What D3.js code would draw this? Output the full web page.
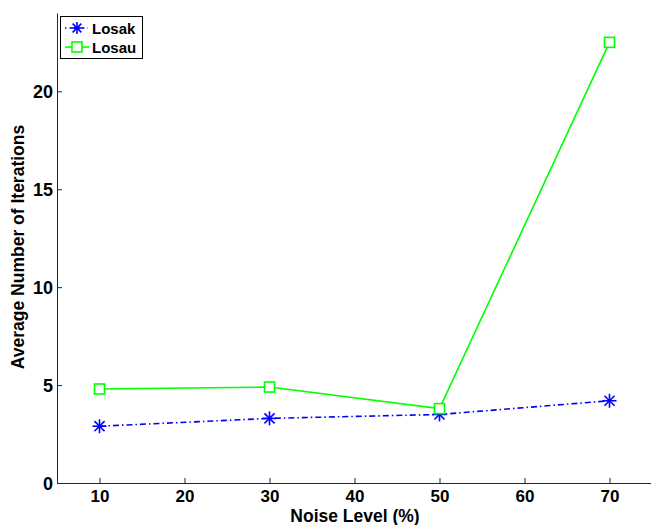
<!DOCTYPE html>
<html>
<head>
<meta charset="utf-8">
<script src="https://cdn.jsdelivr.net/npm/d3@7"></script>
<style>
  body { margin: 0; background: #fff; }
  text { font-family: "Liberation Sans", Arial, sans-serif; font-weight: bold; }
</style>
</head>
<body>
<svg width="651" height="525"></svg>
<script>
let noise = [10, 30, 50, 70];
let losak = [2.9, 3.3, 3.5, 4.2];
let losau = [4.8, 4.9, 3.8, 22.5];
let xTicks = [10, 20, 30, 40, 50, 60, 70];
let yTicks = [0, 5, 10, 15, 20];

let svg = d3.select('svg');

let xScale = d3.scaleLinear().domain([5, 75]).range([57, 652]);
let yScale = d3.scaleLinear().domain([0, 24]).range([483, 13]);

let xAxis = d3.axisBottom(xScale).tickValues(xTicks).tickSizeInner(-5).tickSizeOuter(0).tickPadding(7);
let yAxis = d3.axisLeft(yScale).tickValues(yTicks).tickSizeInner(-5).tickSizeOuter(0).tickPadding(4);

let gx = svg.append('g')
    .attr('transform', `translate(0,${yScale(0)})`)
    .call(xAxis);
let gy = svg.append('g')
    .attr('transform', `translate(${xScale(5)},0)`)
    .call(yAxis);

[gx, gy].forEach(g => {
  g.select('.domain').attr('stroke', '#262626').attr('stroke-width', 1);
  g.selectAll('.tick line').attr('stroke', '#262626');
  g.selectAll('.tick text').attr('fill', '#000')
    .style('font-family', '"Liberation Sans", Arial, sans-serif').style('font-weight', 'bold');
});
gx.selectAll('.tick text').attr('font-size', 17).attr('dy', '0.71em');
gy.selectAll('.tick text').attr('font-size', 18).attr('dy', '0.36em');

svg.append('text')
    .attr('x', 355)
    .attr('y', 522)
    .attr('text-anchor', 'middle')
    .attr('font-size', 17.5)
    .text('Noise Level (%)');

svg.append('text')
    .attr('transform', `translate(24,247) rotate(-90)`)
    .attr('text-anchor', 'middle')
    .attr('font-size', 17.5)
    .text('Average Number of Iterations');

let line = d3.line().x(d => xScale(d[0])).y(d => yScale(d[1]));

// Losau: solid green with squares
svg.append('path')
    .datum(noise.map((n, i) => [n, losau[i]]))
    .attr('d', line)
    .attr('fill', 'none')
    .attr('stroke', '#00ff00')
    .attr('stroke-width', 1.6);

// Losak: blue dash-dot
svg.append('path')
    .datum(noise.map((n, i) => [n, losak[i]]))
    .attr('d', line)
    .attr('fill', 'none')
    .attr('stroke', '#0000ff')
    .attr('stroke-width', 1.6)
    .attr('stroke-dasharray', '6,3,1.5,3');

function star(g, cx, cy, r) {
  let s = g.append('g').attr('transform', `translate(${cx},${cy})`)
      .attr('stroke', '#0000ff').attr('stroke-width', 1.6);
  [[0, -r, 0, r], [-r, 0, r, 0], [-r * 0.72, -r * 0.72, r * 0.72, r * 0.72], [-r * 0.72, r * 0.72, r * 0.72, -r * 0.72]]
    .forEach(l => s.append('line').attr('x1', l[0]).attr('y1', l[1]).attr('x2', l[2]).attr('y2', l[3]));
}
function square(g, cx, cy, h) {
  g.append('rect').attr('x', cx - h).attr('y', cy - h).attr('width', 2 * h).attr('height', 2 * h)
    .attr('fill', '#fff').attr('stroke', '#00ff00').attr('stroke-width', 1.6);
}

noise.forEach((n, i) => star(svg, xScale(n), yScale(losak[i]), 7));
noise.forEach((n, i) => square(svg, xScale(n), yScale(losau[i]), 5));

// legend
let lg = svg.append('g');
lg.append('rect').attr('x', 60.5).attr('y', 16.5).attr('width', 82).attr('height', 42)
    .attr('fill', '#fff').attr('stroke', '#000').attr('stroke-width', 1);
lg.append('line').attr('x1', 65).attr('x2', 88).attr('y1', 28).attr('y2', 28)
    .attr('stroke', '#0000ff').attr('stroke-width', 1.6).attr('stroke-dasharray', '1.5,3');
star(lg, 77, 28, 6);
lg.append('text').attr('x', 92).attr('y', 34).attr('font-size', 15).text('Losak');
lg.append('line').attr('x1', 65).attr('x2', 89).attr('y1', 47).attr('y2', 47)
    .attr('stroke', '#00ff00').attr('stroke-width', 1.6);
square(lg, 77, 47, 5);
lg.append('text').attr('x', 92).attr('y', 53).attr('font-size', 15).text('Losau');
</script>
</body>
</html>
